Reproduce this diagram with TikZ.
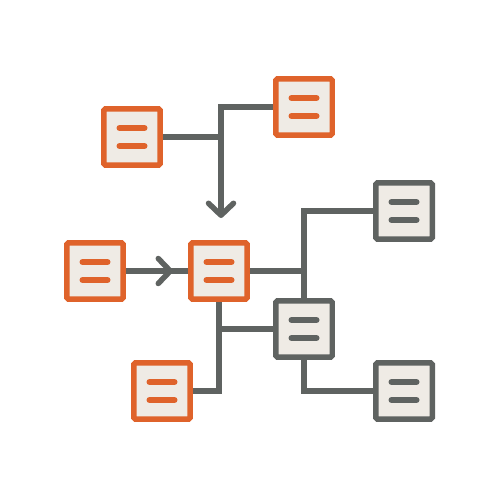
\documentclass[tikz,border=0pt]{standalone}
\usetikzlibrary{arrows.meta,backgrounds}
\definecolor{rust}{HTML}{DF632B}
\definecolor{slate}{HTML}{5F6361}
\definecolor{paper}{HTML}{EFEBE5}
\tikzset{
  card/.style={draw=#1, fill=paper, line width=0.11cm, rounded corners=1pt,
    minimum size=1.13cm, inner sep=0pt},
  wire/.style={draw=slate, line width=0.11cm},
  bars/.style={line width=0.12cm, line cap=round},
  tip/.style={-{Straight Barb[length=0.24cm, width=0.5cm, round]}}
}
\begin{document}
\begin{tikzpicture}[x=0.02cm, y=-0.02cm]
  \useasboundingbox (0,0) rectangle (500,500);
  % cards
  \node[card=rust] (a) at (132,137) {};
  \node[card=rust] (b) at (304,107) {};
  \node[card=rust] (c) at (219,271) {};
  \node[card=rust] (d) at (95,271) {};
  \node[card=rust] (e) at (162,391) {};
  \node[card=slate] (f) at (304,329) {};
  \node[card=slate] (g) at (404,211) {};
  \node[card=slate] (h) at (404,391) {};
  \foreach \n/\c in {a/rust,b/rust,c/rust,d/rust,e/rust,f/slate,g/slate,h/slate} {
    \draw[bars, \c] (\n.center) ++(-12.5,-9) -- ++(25,0);
    \draw[bars, \c] (\n.center) ++(-12.5,9) -- ++(25,0);
  }
  % wires
  \coordinate (bend) at (221,107);
  \coordinate (drop) at (221,218);
  \coordinate (mid) at (173,271);
  \begin{scope}[on background layer]
    \draw[wire] (a.east) -- (a.east -| bend);
    \draw[wire, tip] (b.west) -- (bend) -- (drop);
    \draw[wire] (d.east) -- (c.west);
    \draw[wire, tip] (d.east) -- (mid);
    \draw[wire] (c.east) -- (c.east -| f.north);
    \draw[wire] (g.west) -| (f.north);
    \draw[wire] (c.south) |- (e.east);
    \draw[wire] (c.south |- f.west) -- (f.west);
    \draw[wire] (f.south) |- (h.west);
  \end{scope}
\end{tikzpicture}
\end{document}
